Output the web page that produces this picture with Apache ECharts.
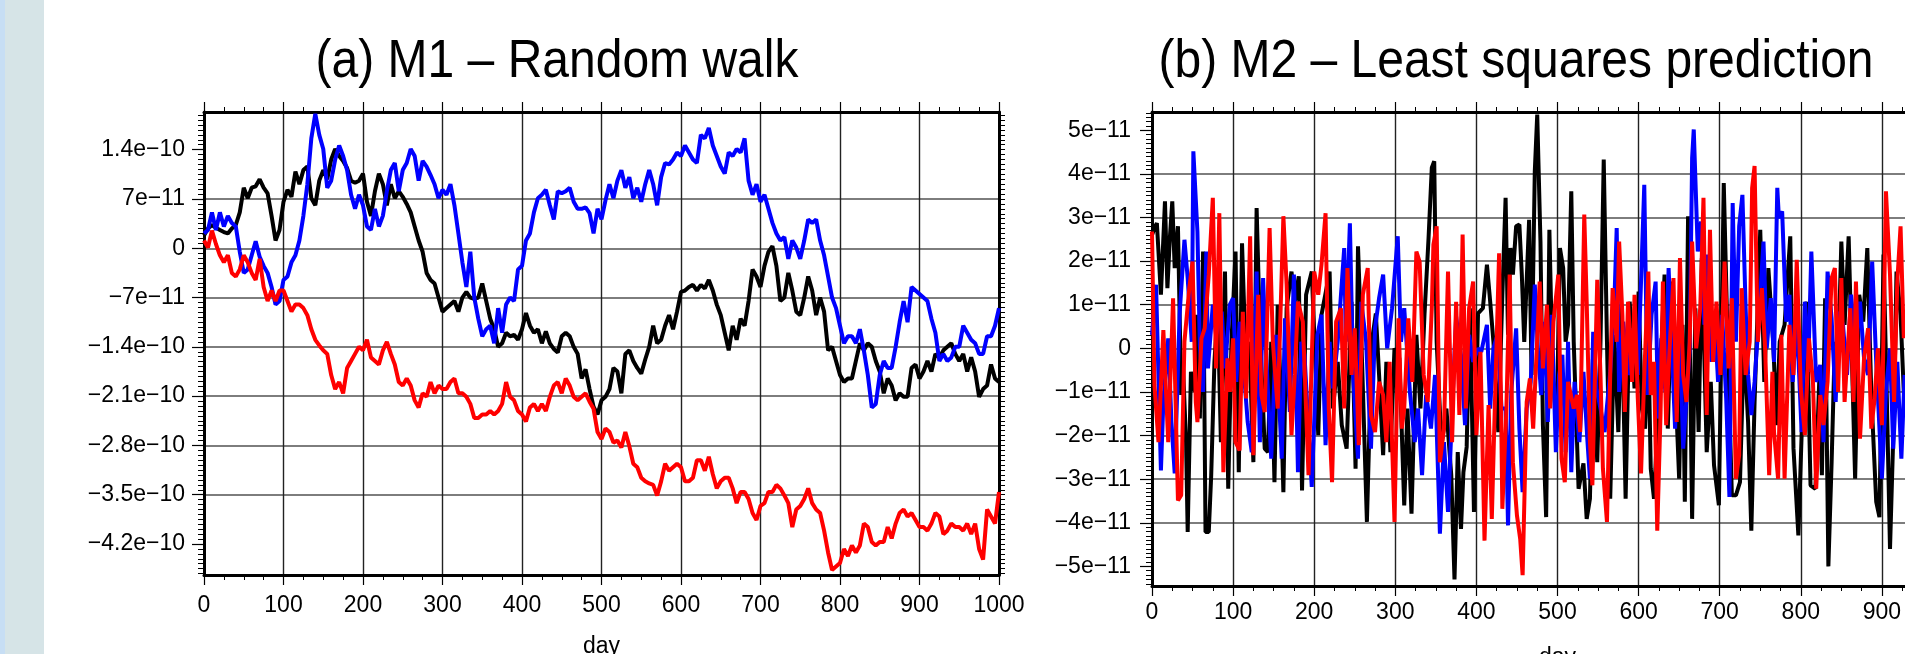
<!DOCTYPE html>
<html>
<head>
<meta charset="utf-8">
<script src="https://cdn.jsdelivr.net/npm/echarts@6/dist/echarts.min.js"></script>
<style>
  html, body { margin: 0; padding: 0; background: #fff; }
  #chart { width: 1905px; height: 654px; }
</style>
</head>
<body>
<div id="chart"></div>
<script>
// values are in units of 1e-11 (the y axes use the same unit)

// (a) M1 - random walk, one value every 5 days from day 0 to day 1000
const stepA = 5;
const blackA = [
  1.8, 2.8, 3.3, 2.9, 2.6, 2.3, 2.1, 2.8, 3.3, 5.1, 8.6, 7.1, 8.6, 8.8, 9.8, 8.6, 7.8, 4.6, 1.1, 2.6,
  6.6, 8.3, 7.3, 10.9, 9.1, 11.1, 11.6, 7.1, 6.1, 9.6, 11.1, 9.8, 12.6, 14.1, 13.1, 12.4, 11.4, 9.6, 9.3, 9.6,
  10.6, 6.6, 4.6, 8.1, 10.6, 9.1, 6.1, 9.1, 7.1, 8.1, 7.3, 6.3, 5.1, 3.1, 1.1, -0.5, -3.5, -4.5, -5.0, -7.0,
  -9.0, -8.5, -8.0, -7.5, -9.0, -7.0, -6.2, -7.0, -7.2, -7.0, -5.0, -7.5, -10.0, -11.5, -14.0, -13.5, -12.0, -12.5, -12.3, -13.0,
  -11.5, -9.2, -11.0, -12.0, -11.5, -13.5, -11.8, -13.5, -14.3, -14.8, -12.5, -12.0, -12.5, -14.0, -15.0, -18.5, -17.2, -20.0, -22.5, -23.6,
  -21.6, -21.1, -20.0, -17.0, -17.5, -20.6, -15.0, -14.5, -16.0, -17.0, -17.8, -15.8, -14.0, -11.0, -13.5, -13.0, -11.0, -9.5, -11.5, -9.0,
  -6.2, -6.0, -5.5, -5.2, -6.0, -5.2, -5.7, -4.5, -6.0, -8.0, -9.5, -12.0, -14.5, -11.0, -13.0, -10.0, -11.0, -7.5, -3.0, -4.0,
  -5.5, -2.5, -0.5, 0.3, -2.5, -7.5, -7.0, -3.5, -6.0, -9.0, -9.5, -7.0, -4.0, -6.0, -9.5, -7.0, -9.0, -14.5, -14.0, -16.0,
  -18.0, -19.0, -18.5, -18.5, -16.0, -13.5, -14.5, -13.5, -14.0, -16.0, -17.5, -20.6, -18.5, -19.5, -21.6, -20.6, -21.1, -21.1, -17.0, -16.5,
  -18.5, -17.5, -16.0, -17.5, -15.0, -15.5, -14.5, -14.0, -13.5, -15.0, -16.0, -15.0, -17.5, -15.5, -17.5, -21.1, -20.0, -19.5, -16.5, -18.5,
  -19.0
];
const blueA = [
  2.1, 2.6, 5.1, 2.6, 5.1, 3.1, 4.6, 3.6, 3.1, -0.5, -3.5, -3.0, -1.0, 1.0, -1.2, -2.5, -3.5, -5.5, -8.0, -7.5,
  -4.5, -4.0, -2.0, -1.0, 1.1, 4.6, 9.1, 15.6, 19.1, 16.1, 14.1, 8.6, 9.6, 12.6, 14.6, 13.1, 11.1, 7.6, 5.6, 7.6,
  6.1, 3.1, 2.6, 5.6, 3.1, 4.6, 8.1, 11.1, 12.1, 8.1, 11.1, 12.1, 14.1, 13.1, 9.6, 12.4, 11.6, 10.4, 9.1, 7.1,
  8.3, 7.6, 9.1, 6.1, 2.1, -2.0, -5.5, -0.5, -7.0, -10.0, -12.5, -11.5, -11.0, -13.5, -8.5, -12.0, -8.0, -7.0, -7.5, -3.0,
  -2.5, 1.1, 2.1, 5.1, 7.1, 7.6, 8.3, 6.1, 4.1, 8.1, 7.8, 8.1, 8.6, 6.6, 5.6, 5.6, 5.8, 5.0, 2.1, 5.6,
  4.1, 6.8, 9.1, 7.1, 9.6, 11.1, 8.6, 10.1, 7.1, 8.6, 6.6, 9.1, 11.1, 9.1, 6.1, 10.1, 12.1, 11.9, 12.6, 13.6,
  13.1, 14.6, 13.6, 12.6, 12.1, 16.1, 15.6, 17.1, 14.6, 13.1, 11.6, 10.6, 13.6, 13.1, 14.1, 13.6, 15.6, 9.6, 7.6, 9.1,
  6.6, 7.6, 5.6, 3.6, 2.1, 1.1, 1.6, -1.5, 1.1, 0.1, -1.5, 1.1, 4.1, 3.6, 4.1, 1.1, -1.0, -4.0, -7.0, -8.5,
  -11.0, -13.5, -12.5, -12.5, -13.5, -11.5, -14.5, -18.0, -22.6, -22.1, -18.0, -16.0, -17.0, -17.0, -14.0, -10.5, -7.5, -10.5, -5.5, -6.0,
  -6.5, -7.0, -7.5, -10.0, -12.0, -16.0, -15.0, -16.0, -15.5, -14.0, -14.0, -11.0, -12.0, -13.0, -13.5, -15.0, -15.0, -12.5, -12.5, -11.0,
  -8.5
];
const redA = [
  1.1, 0.1, 2.5, 0.6, -1.0, -2.0, -1.0, -3.5, -4.0, -3.0, -1.0, -2.0, -3.5, -4.5, -1.5, -5.5, -7.5, -6.0, -7.5, -6.0,
  -6.0, -7.5, -9.0, -8.0, -8.0, -8.5, -9.5, -11.5, -13.0, -13.8, -14.5, -15.0, -18.0, -20.0, -19.0, -20.6, -17.0, -16.0, -15.0, -14.0,
  -14.5, -13.0, -15.5, -16.0, -16.5, -14.5, -13.3, -15.0, -16.5, -19.0, -19.5, -18.5, -19.5, -21.6, -22.6, -20.6, -21.1, -19.0, -20.6, -19.5,
  -20.0, -20.0, -19.0, -18.5, -20.6, -20.6, -21.1, -22.1, -24.1, -24.1, -23.6, -23.6, -23.1, -23.6, -23.1, -22.1, -19.0, -21.1, -21.6, -23.1,
  -23.6, -24.6, -22.6, -22.1, -23.1, -22.1, -23.1, -21.1, -19.5, -19.0, -20.6, -18.5, -19.5, -21.1, -21.6, -21.1, -20.6, -21.8, -22.8, -26.1,
  -27.1, -25.6, -26.1, -27.6, -27.3, -28.3, -26.1, -28.1, -30.6, -31.1, -32.6, -33.1, -33.4, -33.6, -35.1, -33.1, -30.6, -31.6, -31.1, -30.6,
  -31.1, -33.1, -33.1, -32.6, -30.1, -30.1, -31.6, -29.6, -32.1, -34.1, -33.1, -32.6, -32.6, -34.1, -36.2, -34.6, -34.6, -35.6, -37.6, -38.6,
  -36.6, -36.2, -34.6, -34.6, -33.6, -34.1, -35.1, -36.2, -39.6, -37.1, -36.6, -35.6, -34.1, -36.2, -37.1, -37.6, -40.1, -43.2, -45.7, -45.2,
  -44.7, -42.7, -43.7, -42.2, -43.2, -42.2, -39.1, -39.6, -41.7, -42.2, -41.7, -41.7, -39.6, -41.2, -39.1, -37.6, -37.1, -38.1, -37.6, -38.6,
  -39.6, -39.6, -40.1, -39.1, -37.6, -38.1, -40.6, -40.1, -39.1, -39.6, -39.6, -40.1, -39.1, -40.6, -39.1, -42.7, -44.2, -37.1, -38.1, -39.1,
  -34.6
];

// (b) M2 - least squares prediction, [day, value] vertices
const blackB = [
  [0,2.6],[3,2.76],[6,2.87],[11,1.23],[16,3.37],[19,1.38],[22,2.53],[25,3.37],[28,1.84],[32,2.8],[36,-1.07],[38,-0.31],[42,-2.15],[44,-4.21],[48,-0.54],[53,-1.0],[55,0.77],[59,-1.61],[63,2.22],[66,-4.21],
  [70,-4.21],[73,-2.91],[77,-0.31],[81,0.92],[85,-2.15],[90,1.76],[94,-3.22],[98,0.15],[103,2.22],[107,-2.84],[111,2.41],[116,-0.46],[120,0.15],[125,-2.61],[129,3.22],[133,0.46],[139,-2.3],[143,-2.38],[147,0.15],[151,-3.07],
  [155,1.0],[158,-0.61],[162,-3.3],[166,0.92],[172,1.76],[176,1.07],[181,1.65],[185,-3.26],[190,1.23],[197,1.76],[205,-1.99],[209,0.77],[219,1.76],[223,-1.38],[229,-0.31],[234,-1.76],[240,-2.3],[246,1.07],[251,-2.76],[254,2.34],
  [259,-0.31],[265,-3.98],[271,0.15],[276,0.8],[280,-0.61],[285,-2.45],[289,-0.31],[294,-2.38],[299,0],[305,-0.23],[311,-3.6],[315,-1.38],[320,-3.79],[326,0.31],[331,-1.38],[336,0.77],[341,2.53],[345,4.14],[348,4.29],[351,0.15],
  [357,-2.22],[363,-1.38],[369,-2.91],[373,-5.3],[377,-2.38],[381,-4.14],[384,-2.84],[388,-2.26],[392,0.92],[397,-3.75],[402,0.8],[408,0.92],[413,1.92],[417,1.07],[421,0.15],[427,-1.92],[432,1.23],[436,3.45],[439,0.31],[442,2.3],
  [445,1.69],[449,2.8],[453,2.84],[456,1.69],[459,0.15],[465,2.95],[468,-0.61],[472,4.06],[475,5.36],[479,2.45],[482,-1.76],[486,-3.87],[490,2.72],[494,-0.61],[499,-1.76],[503,2.3],[507,1.84],[510,0.15],[513,0.54],[517,3.6],
  [520,0.15],[526,-3.22],[532,-2.64],[536,-3.91],[540,-3.45],[544,0],[549,-2.61],[553,0.15],[557,4.33],[561,0.15],[565,-3.45],[570,0.31],[575,-1.92],[579,1.0],[584,-3.45],[589,1.07],[595,-0.92],[600,1.3],[604,-1.38],[608,-1.84],
  [612,0.15],[615,-2.76],[619,-3.45],[623,-1.84],[628,0],[632,1.69],[636,-1.84],[641,1.53],[646,-1.15],[650,-2.99],[654,0.54],[657,-3.52],[661,3.03],[666,-3.91],[670,0.92],[674,-1.92],[678,2.07],[684,-2.38],[689,-0.77],[693,-2.68],
  [699,-3.6],[705,3.79],[710,0],[715,-3.37],[720,-3.37],[725,-3.07],[730,0.15],[735,-1.69],[739,-4.18],[743,-1.23],[750,2.72],[755,-0.77],[760,1.84],[766,0.15],[770,-1.76],[774,0.15],[780,0.54],[787,2.57],[791,-2.3],[797,-4.29],
  [801,-1.99],[807,1.07],[812,-3.14],[818,-3.22],[823,-0.61],[826,-2.91],[830,1.15],[834,-5.0],[838,-2.61],[842,0.15],[846,-0.31],[850,2.45],[854,0.54],[859,2.57],[863,-0.23],[867,-2.99],[872,1.23],[877,0.61],[882,2.3],[887,-1.07],
  [893,-3.52],[897,-3.87],[902,2.15],[906,-1.07],[910,-4.6],[915,-1.38],[918,1.76],[923,0.77],[927,-1.0]
];
const blueB = [
  [0,0.31],[5,1.46],[11,-2.8],[14,-1.23],[20,0.23],[24,-1.69],[28,-2.87],[34,0.77],[40,2.49],[44,1.61],[49,0.15],[51,4.52],[56,2.68],[59,0.07],[63,-1.0],[67,2.22],[69,-0.46],[75,1.0],[79,0.31],[86,0.84],
  [90,-0.46],[96,1.0],[100,1.15],[104,-0.77],[108,0.61],[112,-0.23],[118,-1.69],[123,-2.38],[129,1.76],[133,-2.15],[137,1.61],[140,0.15],[147,-2.53],[153,0.31],[160,-2.53],[164,0.69],[170,-1.46],[175,1.69],[180,-2.84],[184,0.15],
  [188,-0.15],[197,-3.18],[204,0.31],[209,0.77],[214,-2.22],[219,0.15],[223,-0.92],[229,0.15],[237,2.3],[239,0.15],[244,2.87],[248,-0.61],[254,-2.53],[258,1.07],[264,0.15],[270,-2.3],[275,0.46],[280,1.15],[285,1.69],[290,0],
  [296,0.92],[303,2.57],[307,0.15],[311,0.92],[318,-1.0],[324,-2.15],[328,-1.38],[333,-2.91],[338,-1.07],[344,-1.84],[349,-0.61],[355,-4.25],[360,-2.15],[365,-3.75],[371,-1.0],[375,0.73],[381,-0.15],[386,-1.76],[391,0.31],[396,-0.31],
  [402,0],[406,-0.08],[413,0.54],[417,-1.38],[421,0],[426,0.31],[431,-1.38],[436,-1.38],[439,-4.06],[443,-1.0],[449,0.46],[453,-1.84],[457,-3.3],[462,-1.38],[467,-0.77],[472,1.46],[476,-0.08],[480,-1.07],[484,0.61],[488,-1.69],
  [493,0.77],[498,-2.38],[502,-0.61],[506,-0.15],[510,-2.38],[513,0.15],[517,-2.84],[521,-0.77],[527,-2.15],[532,-0.54],[537,-2.15],[540,-2.99],[544,0.38],[548,-0.92],[553,-1.38],[558,-1.92],[565,-0.54],[570,1.0],[573,2.76],[576,-1.0],
  [581,0.61],[587,-0.61],[593,0.46],[599,-0.61],[603,1.53],[607,3.75],[611,-1.07],[616,0.77],[621,1.53],[624,-1.61],[628,0.23],[633,-1.0],[637,1.84],[641,0],[645,-1.84],[650,0.77],[655,-2.3],[659,-1.15],[663,0],[666,4.37],
  [668,5.02],[673,2.22],[677,2.91],[681,0.54],[685,2.15],[690,-0.31],[694,0.61],[698,-0.77],[703,0.77],[708,-1.15],[712,-3.41],[716,3.33],[720,0.15],[724,2.8],[728,3.52],[732,0.92],[735,-0.61],[739,-1.53],[743,-0.77],[748,0.61],
  [754,2.45],[758,0],[763,1.15],[767,-0.31],[771,3.68],[773,2.99],[777,3.14],[782,0.61],[786,1.23],[790,-0.77],[795,0.69],[801,-1.92],[805,1.07],[809,-0.54],[813,2.22],[819,-0.77],[824,-0.38],[828,-2.15],[833,1.76],[838,0.69],
  [843,-1.23],[847,0.84],[852,0.54],[857,-0.61],[862,1.23],[868,0],[873,1.07],[878,-0.23],[883,-0.61],[888,1.99],[893,-0.31],[900,-2.99],[905,-1.0],[910,0],[914,-2.3],[919,-0.31],[924,-2.53],[928,-0.61]
];
const redB = [
  [0,2.68],[3,-0.84],[8,-2.15],[14,0.42],[20,-2.15],[26,1.15],[32,-3.49],[36,-3.37],[40,0.15],[46,1.38],[50,1.99],[54,-1.23],[56,-1.69],[61,0.23],[65,0.46],[70,1.69],[75,3.45],[79,-0.46],[83,3.1],[88,-2.84],
  [93,-0.23],[96,-1.0],[100,0.23],[103,-2.15],[108,-2.34],[112,0.84],[116,-1.15],[121,2.57],[125,-2.45],[131,1.23],[135,-1.07],[139,-1.46],[145,2.76],[149,0.15],[155,-1.38],[162,3.03],[166,1.46],[172,-1.99],[176,-0.61],[180,1.07],
  [186,0.61],[193,-2.91],[200,1.76],[205,1.23],[209,1.92],[214,3.1],[218,-1.38],[222,-3.07],[227,0.61],[233,0.92],[237,-1.38],[241,1.84],[246,-0.61],[250,0.46],[255,-2.22],[260,1.23],[266,1.84],[270,-1.53],[275,-1.92],[280,-0.77],
  [285,-1.07],[289,-2.15],[293,-0.31],[299,-3.98],[304,0.69],[308,-1.84],[311,-1.38],[316,0.69],[321,-0.77],[326,2.22],[330,1.99],[335,-0.61],[340,-1.23],[345,0.92],[347,2.38],[351,2.8],[355,-2.61],[360,-1.84],[365,1.76],[370,-2.15],
  [375,1.07],[379,-1.53],[383,2.61],[387,-1.38],[391,0.92],[396,1.53],[400,-1.99],[405,-0.08],[410,-4.41],[415,-1.3],[419,-3.91],[423,-1.15],[428,2.18],[432,-3.68],[437,-1.38],[441,1.69],[445,-2.61],[450,-3.83],[454,-4.37],[457,-5.2],
  [462,-1.23],[466,-0.69],[470,-1.84],[475,0.23],[478,1.53],[482,-0.46],[487,1.0],[491,-1.38],[495,0.61],[501,1.69],[505,-2.53],[509,-3.07],[513,-0.77],[520,-1.38],[524,-1.07],[528,-1.92],[533,3.07],[536,1.07],[540,-2.15],[543,-3.14],
  [549,1.57],[553,-0.61],[556,-2.76],[561,-3.98],[565,-0.61],[568,1.38],[573,0.15],[576,2.45],[580,0.77],[583,-1.46],[587,1.07],[592,-0.77],[595,1.23],[599,-1.15],[603,-2.87],[607,-0.61],[612,1.76],[615,-1.07],[619,-0.31],[623,-4.18],
  [627,-1.53],[630,1.53],[634,-1.76],[638,-0.08],[643,1.61],[647,-1.69],[651,2.07],[655,-0.61],[659,-1.23],[663,0.15],[666,2.45],[671,0],[676,0.92],[680,3.45],[684,-1.53],[688,2.72],[692,-0.31],[696,1.07],[701,-0.61],[706,1.99],
  [711,-0.46],[715,1.15],[720,-2.99],[724,-2.45],[727,1.38],[732,-0.61],[737,0.15],[740,3.68],[743,4.18],[747,0.15],[752,1.38],[756,0],[761,-2.91],[765,-0.54],[767,-1.92],[772,-2.99],[776,0.31],[780,-2.99],[786,0.54],[791,-0.61],
  [795,2.03],[800,-0.92],[805,-1.99],[810,0.23],[815,-0.77],[819,-3.22],[824,-1.07],[828,-1.76],[833,-0.77],[838,1.61],[842,1.84],[846,-1.0],[850,1.61],[854,-1.23],[861,0.92],[865,-1.23],[868,1.53],[873,-2.07],[878,-0.23],[883,0.46],
  [887,-1.84],[891,-1.15],[895,0],[900,-1.76],[905,3.6],[910,1.69],[915,-1.23],[919,1.53],[923,2.8],[927,0.23]
];

// tick labels
const xTicks = [0, 100, 200, 300, 400, 500, 600, 700, 800, 900, 1000];
const yTicksA = [-42, -35, -28, -21, -14, -7, 0, 7, 14];
const yLabelsA = ['−4.2e−10', '−3.5e−10', '−2.8e−10', '−2.1e−10', '−1.4e−10', '−7e−11', '0', '7e−11', '1.4e−10'];
const yTicksB = [-5, -4, -3, -2, -1, 0, 1, 2, 3, 4, 5];
const yLabelsB = ['−5e−11', '−4e−11', '−3e−11', '−2e−11', '−1e−11', '0', '1e−11', '2e−11', '3e−11', '4e−11', '5e−11'];

const FONT = '"Liberation Sans", Arial, Helvetica, sans-serif';
const rangeA = [-46.4, 19.35];
const rangeB = [-5.45, 5.42];

const minorA = [];
for (let k = -66; k <= 27; k++) minorA.push(+(k * 0.7).toFixed(2));
const minorB = [];
for (let k = -54; k <= 54; k++) minorB.push(+(k * 0.1).toFixed(2));

const pairsA = vals => vals.map((v, i) => [i * stepA, v]);

function xAxisFor(grid, pos, main, labelMargin, nameGap) {
  return {
    type: 'value', gridIndex: grid, position: pos,
    min: xTicks[0], max: xTicks[xTicks.length - 1], interval: 100,
    axisLine: { show: true, onZero: false, lineStyle: { color: '#000', width: 3 } },
    axisTick: { show: true, inside: false, length: 10, lineStyle: { color: '#000', width: 1.2 } },
    minorTick: { show: true, splitNumber: 4, length: 5, lineStyle: { color: '#000', width: 1 } },
    axisLabel: { show: main, margin: labelMargin, color: '#000', fontSize: 23, fontFamily: FONT, formatter: v => String(v) },
    splitLine: { show: main, showMinLine: false, showMaxLine: false, lineStyle: { color: '#222', width: 1.4 } },
    name: main ? 'day' : '', nameLocation: 'middle', nameGap: nameGap,
    nameTextStyle: { color: '#000', fontSize: 23, fontFamily: FONT }
  };
}

function yMain(grid, range, ticks, labels, margin) {
  return {
    type: 'value', gridIndex: grid, position: 'left', min: range[0], max: range[1],
    axisLine: { show: true, onZero: false, lineStyle: { color: '#000', width: 3 } },
    axisTick: { show: true, inside: false, length: 12, customValues: ticks, lineStyle: { color: '#000', width: 1.2 } },
    axisLabel: {
      show: true, margin: margin, color: '#000', fontSize: 23, fontFamily: FONT, customValues: ticks,
      formatter: v => { const i = ticks.findIndex(t => Math.abs(t - v) < 1e-6); return i < 0 ? '' : labels[i]; }
    },
    splitLine: { show: true, showMinLine: false, showMaxLine: false, lineStyle: { color: '#7d7d7d', width: 2 } }
  };
}

function yMinor(grid, range, pos, minors, withLine) {
  return {
    type: 'value', gridIndex: grid, position: pos, min: range[0], max: range[1],
    axisLine: { show: withLine, onZero: false, lineStyle: { color: '#000', width: 3 } },
    axisTick: { show: true, inside: false, length: 6, customValues: minors, lineStyle: { color: '#000', width: 1 } },
    axisLabel: { show: false },
    splitLine: { show: false }
  };
}

function lineSeries(x, y, color, data) {
  return {
    type: 'line', xAxisIndex: x, yAxisIndex: y, data: data, showSymbol: false, symbol: 'none',
    lineStyle: { color: color, width: 4 }, itemStyle: { color: color }, animation: false, clip: true
  };
}

const chart = echarts.init(document.getElementById('chart'), null, { renderer: 'canvas' });
chart.setOption({
  animation: false,
  backgroundColor: '#fff',
  grid: [
    { left: 204, top: 112, width: 795, height: 463, containLabel: false, outerBoundsMode: 'none' },
    { left: 1152, top: 112, width: 811, height: 474, containLabel: false, outerBoundsMode: 'none' }
  ],
  xAxis: [
    xAxisFor(0, 'bottom', true, 19, 60),
    xAxisFor(0, 'top', false, 8, 20),
    xAxisFor(1, 'bottom', true, 15, 60),
    xAxisFor(1, 'top', false, 8, 20)
  ],
  yAxis: [
    yMain(0, rangeA, yTicksA, yLabelsA, 19),
    yMinor(0, rangeA, 'left', minorA, false),
    yMinor(0, rangeA, 'right', minorA, true),
    yMain(1, rangeB, yTicksB, yLabelsB, 21),
    yMinor(1, rangeB, 'left', minorB, false)
  ],
  series: [
    lineSeries(0, 0, '#000000', pairsA(blackA)),
    lineSeries(0, 0, '#0000ff', pairsA(blueA)),
    lineSeries(0, 0, '#ff0000', pairsA(redA)),
    lineSeries(2, 3, '#000000', blackB),
    lineSeries(2, 3, '#0000ff', blueB),
    lineSeries(2, 3, '#ff0000', redB)
  ],
  graphic: [
    { type: 'rect', left: 0, top: 0, shape: { width: 44, height: 654 }, style: { fill: '#d6e4e7' }, z: -1 },
    { type: 'rect', left: 0, top: 0, shape: { width: 5, height: 654 }, style: { fill: '#c7def4' }, z: -1 },
    { type: 'text', x: 557, y: 62, scaleY: 1.12, style: { text: '(a) M1 – Random walk', fontSize: 48, fontFamily: FONT, fill: '#000', align: 'center', verticalAlign: 'middle' } },
    { type: 'text', x: 1516, y: 62, scaleY: 1.12, style: { text: '(b) M2 – Least squares prediction', fontSize: 48, fontFamily: FONT, fill: '#000', align: 'center', verticalAlign: 'middle' } }
  ]
});
</script>
</body>
</html>
